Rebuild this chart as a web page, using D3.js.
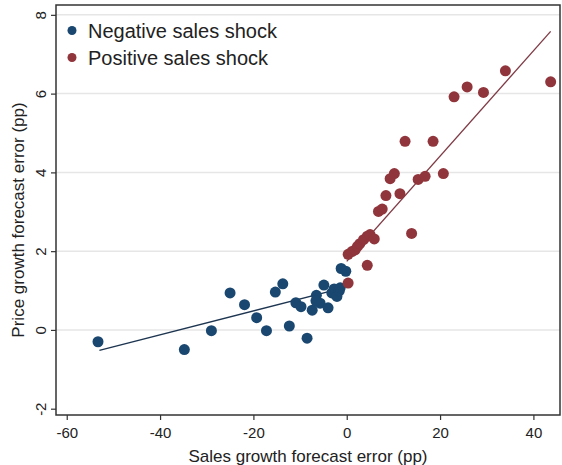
<!DOCTYPE html>
<html>
<head>
<meta charset="utf-8">
<script src="https://cdn.jsdelivr.net/npm/d3@7"></script>
<style>
	body { margin: 0; background: #fff; }
	svg { display: block; font-family: "Liberation Sans", Arial, sans-serif; }
</style>
</head>
<body>
<svg width="562" height="465"></svg>
<script>
(function () {

	// negative sales shock (sales error, price error)
	var negX = [-53.3, -34.8, -29.0, -25.0, -21.9, -19.3, -17.2, -15.3, -13.7, -12.3, -10.9, -9.8, -8.5, -7.4, -6.5, -5.7, -4.9, -4.0, -3.2, -2.7, -2.1, -1.6, -1.2, -0.2, -6.6, -1.4];
	var negY = [-0.30, -0.50, -0.02, 0.94, 0.64, 0.31, -0.02, 0.96, 1.17, 0.10, 0.69, 0.59, -0.21, 0.50, 0.88, 0.68, 1.14, 0.56, 0.94, 1.04, 0.85, 0.99, 1.56, 1.49, 0.74, 1.07];

	// positive sales shock
	var posX = [0.3, 0.3, 1.1, 1.8, 2.3, 2.8, 3.6, 4.4, 5.0, 5.9, 4.4, 6.8, 7.6, 8.4, 9.3, 10.2, 11.4, 12.5, 13.9, 15.3, 16.8, 18.5, 20.7, 23.0, 25.8, 29.3, 34.0, 43.7];
	var posY = [1.19, 1.92, 1.99, 2.03, 2.12, 2.19, 2.29, 2.38, 2.42, 2.31, 1.64, 3.01, 3.07, 3.41, 3.84, 3.97, 3.46, 4.79, 2.45, 3.82, 3.90, 4.79, 3.97, 5.92, 6.17, 6.03, 6.58, 6.30];

	// linear fits, endpoints in data units
	var negFitX = [-53.0, -0.3];
	var negFitY = [-0.52, 1.08];
	var posFitX = [0.0, 43.7];
	var posFitY = [1.74, 7.58];

	var xTicks = [-60, -40, -20, 0, 20, 40];
	var yTicks = [-2, 0, 2, 4, 6, 8];
	var yGrid = [0, 2, 4, 6, 8];

	var seriesNames = ["Negative sales shock", "Positive sales shock"];
	var colors = ["#1a476f", "#90353b"];

	var xTitle = "Sales growth forecast error (pp)";
	var yTitle = "Price growth forecast error (pp)";

	var svg = d3.select("svg");
	var margin = { left: 56, right: 2, top: 5, bottom: 50 };
	var width = 562 - margin.left - margin.right;
	var height = 465 - margin.top - margin.bottom;

	var xScale = d3.scaleLinear()
									.domain([-62.3, 45.7])
									.range([0, width]);

	var yScale = d3.scaleLinear()
									.domain([-2.16, 8.25])
									.range([height, 0]);

	// plain hyphen for negatives, like the original
	var fmt = function(d){ return String(d); };

	var g = svg.append("g")
		.attr("transform", "translate(" + margin.left + "," + margin.top + ")");

	// grid
	g.selectAll("line.grid")
		.data(yGrid)
		.enter()
		.append("line")
		.attr("class", "grid")
		.attr("x1", 0)
		.attr("x2", width)
		.attr("y1", function(d){ return yScale(d); })
		.attr("y2", function(d){ return yScale(d); })
		.attr("stroke", "#e6e6e6")
		.attr("stroke-width", 1.5);

	// axes
	var xAxis = g.append("g")
		.attr("transform", "translate(0," + height + ")")
		.call(d3.axisBottom(xScale).tickValues(xTicks).tickFormat(fmt).tickSize(5).tickPadding(4));

	var yAxis = g.append("g")
		.call(d3.axisLeft(yScale).tickValues(yTicks).tickFormat(fmt).tickSize(5));

	[xAxis, yAxis].forEach(function(a){
		a.select(".domain").remove();
		a.selectAll(".tick line").attr("stroke", "#333").attr("stroke-width", 1.2);
		a.selectAll("text").attr("fill", "#222").style("font-size", "15px");
	});

	xAxis.selectAll("text").attr("dy", "0.95em");

	yAxis.selectAll("text")
		.attr("x", 0)
		.attr("dy", 0)
		.attr("text-anchor", "middle")
		.attr("transform", "translate(-10,0) rotate(-90)");

	// frame
	g.append("rect")
		.attr("x", 0)
		.attr("y", 0)
		.attr("width", width)
		.attr("height", height)
		.attr("fill", "none")
		.attr("stroke", "#333")
		.attr("stroke-width", 1.5);

	// fit lines
	var line = d3.line()
		.x(function(d){ return xScale(d[0]); })
		.y(function(d){ return yScale(d[1]); });

	g.append("path")
		.datum(d3.zip(negFitX, negFitY))
		.attr("d", line)
		.attr("fill", "none")
		.attr("stroke", "#1d3550")
		.attr("stroke-width", 1.3);

	g.append("path")
		.datum(d3.zip(posFitX, posFitY))
		.attr("d", line)
		.attr("fill", "none")
		.attr("stroke", "#7e3a44")
		.attr("stroke-width", 1.3);

	// points
	g.selectAll("circle.neg")
		.data(d3.zip(negX, negY))
		.enter()
		.append("circle")
		.attr("class", "neg")
		.attr("cx", function(d){ return xScale(d[0]); })
		.attr("cy", function(d){ return yScale(d[1]); })
		.attr("r", 5.5)
		.attr("fill", colors[0]);

	g.selectAll("circle.pos")
		.data(d3.zip(posX, posY))
		.enter()
		.append("circle")
		.attr("class", "pos")
		.attr("cx", function(d){ return xScale(d[0]); })
		.attr("cy", function(d){ return yScale(d[1]); })
		.attr("r", 5.5)
		.attr("fill", colors[1]);

	// legend
	var legend = g.selectAll("g.legend")
		.data(seriesNames)
		.enter()
		.append("g")
		.attr("class", "legend")
		.attr("transform", function(d, i){ return "translate(16," + (25.5 + i * 27) + ")"; });

	legend.append("circle")
		.attr("r", 4.5)
		.attr("fill", function(d, i){ return colors[i]; });

	legend.append("text")
		.attr("x", 16)
		.attr("y", 7)
		.attr("fill", "#222")
		.style("font-size", "20px")
		.text(function(d){ return d; });

	// titles
	svg.append("text")
		.attr("x", margin.left + width / 2)
		.attr("y", 462)
		.attr("text-anchor", "middle")
		.attr("fill", "#222")
		.style("font-size", "17px")
		.text(xTitle);

	svg.append("text")
		.attr("transform", "translate(24," + (margin.top + height / 2 + 10) + ") rotate(-90)")
		.attr("text-anchor", "middle")
		.attr("fill", "#222")
		.style("font-size", "17px")
		.text(yTitle);

})();
</script>
</body>
</html>
